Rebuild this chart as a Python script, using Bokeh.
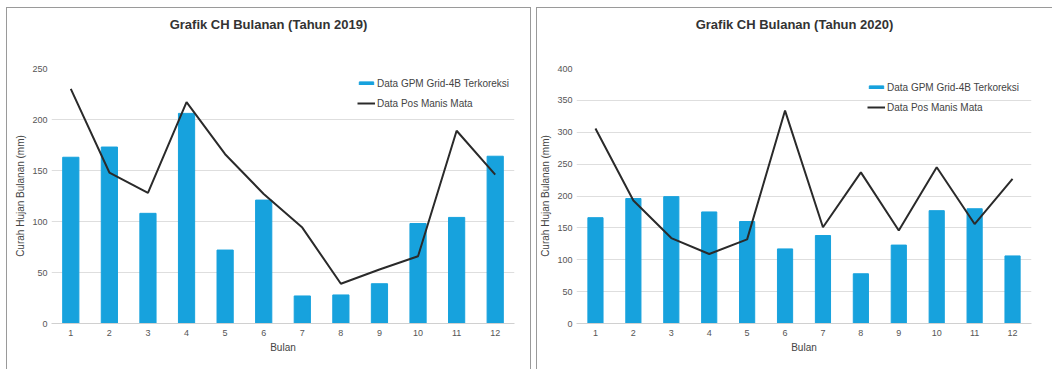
from bokeh.plotting import figure
from bokeh.layouts import row, column
from bokeh.models import Spacer, Legend, LegendItem, FixedTicker, Div
from bokeh.embed import file_html
from bokeh.resources import INLINE

# Monthly rainfall (mm)
months = [str(m) for m in range(1, 13)]

gpm_2019 = [163, 173, 108, 206, 72, 121, 27, 28, 39, 98, 104, 164]
pos_2019 = [230, 148, 128, 217, 166, 127, 94, 39, 53, 66, 189, 146]

gpm_2020 = [166, 196, 199, 175, 160, 117, 138, 78, 123, 177, 180, 106]
pos_2020 = [306, 193, 134, 109, 132, 334, 151, 237, 146, 245, 156, 227]

label_gpm = "Data GPM Grid-4B Terkoreksi"
label_pos = "Data Pos Manis Mata"

BAR = "#17a2dd"
LINE = "#2a2a2a"
FONT = "Liberation Sans"

HEAD_H = 40


def make_chart(title, gpm, pos, ymax, width, left, right, legend_xy, bar_w):
    heading = Div(
        text=title, width=width, height=HEAD_H, margin=0,
        styles={
            "font-family": FONT, "font-size": "13px", "font-weight": "bold",
            "color": "#333333", "text-align": "center",
            "padding-top": "8px", "box-sizing": "border-box",
            "background": "white",
        },
    )

    p = figure(
        x_range=months, y_range=(0, ymax),
        width=width, height=361 - HEAD_H,
        min_border_left=left, min_border_right=right,
        min_border_top=60 - HEAD_H, min_border_bottom=46,
        output_backend="svg", toolbar_location=None,
    )
    p.x_range.range_padding = 0
    p.outline_line_color = None
    p.background_fill_color = "white"
    p.border_fill_color = "white"

    r_bar = p.vbar(x=months, top=gpm, width=bar_w, color=BAR)
    r_line = p.line(x=months, y=pos, line_color=LINE, line_width=2)

    p.yaxis.ticker = FixedTicker(ticks=list(range(0, ymax + 1, 50)))
    p.ygrid.grid_line_color = "#dedede"
    p.xgrid.grid_line_color = None

    for ax in (p.xaxis[0], p.yaxis[0]):
        ax.major_tick_line_color = None
        ax.minor_tick_line_color = None
        ax.major_tick_out = 0
        ax.major_tick_in = 0
        ax.minor_tick_out = 0
        ax.minor_tick_in = 0
        ax.major_label_text_font = FONT
        ax.major_label_text_font_size = "9px"
        ax.major_label_text_color = "#555555"
        ax.axis_label_text_font = FONT
        ax.axis_label_text_font_size = "10px"
        ax.axis_label_text_font_style = "normal"
        ax.axis_label_text_color = "#444444"
    p.yaxis.axis_line_color = None
    p.xaxis.axis_line_color = "#d0d0d0"
    p.yaxis.axis_label = "Curah Hujan Bulanan (mm)"
    p.xaxis.axis_label = "Bulan"
    p.xaxis.major_label_standoff = 6
    p.xaxis.axis_label_standoff = 3
    p.yaxis.major_label_standoff = 4
    p.yaxis.axis_label_standoff = 3

    legend = Legend(
        items=[LegendItem(label=label_gpm, renderers=[r_bar]),
               LegendItem(label=label_pos, renderers=[r_line])],
        location=legend_xy,
        background_fill_alpha=0, border_line_color=None,
        padding=0, margin=0, spacing=0,
        glyph_width=18, glyph_height=4, label_height=20,
        label_standoff=2,
        label_text_font=FONT, label_text_font_size="10px",
        label_text_color="#444444",
    )
    p.add_layout(legend, "center")

    return column(heading, p, spacing=0,
                  styles={"outline": "1px solid #9a9a9a", "background": "white"})


c1 = make_chart("Grafik CH Bulanan (Tahun 2019)", gpm_2019, pos_2019, 250,
                523, 44, 16, (306, 210), 0.42)
c2 = make_chart("Grafik CH Bulanan (Tahun 2020)", gpm_2020, pos_2020, 400,
                515, 39, 21, (291, 206), 0.40)

layout = column(
    Spacer(height=8, width=1052),
    row(Spacer(width=7, height=361), c1, Spacer(width=7, height=361), c2, spacing=0),
    spacing=0,
)

open("out.html", "w").write(file_html(layout, INLINE))
